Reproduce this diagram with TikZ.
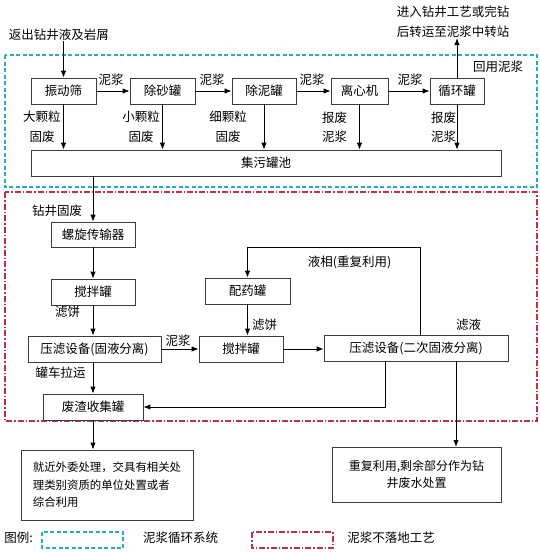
\documentclass[tikz,border=0pt]{standalone}
\usepackage{fontspec}
\setmainfont{Noto Sans CJK SC}
\usetikzlibrary{arrows.meta}
\definecolor{loopcyan}{RGB}{40,170,192}
\definecolor{nolandred}{RGB}{185,50,72}
\definecolor{boxgray}{RGB}{60,60,60}
\newcommand{\mainsize}{\fontsize{12.5}{19.5}\selectfont}
\newcommand{\outsize}{\fontsize{11.4}{17.5}\selectfont}
\tikzset{
  box/.style={
    draw=boxgray,
    line width=0.8pt,
    minimum height=26pt,
    inner sep=0pt,
    align=center,
    font=\mainsize
  },
  outbox/.style={box, font=\outsize},
  lbl/.style={inner sep=0pt, align=center, font=\mainsize},
  arrow/.style={-{Latex[length=7pt,width=5.5pt]}, line width=0.9pt, draw=black},
  loopframe/.style={draw=loopcyan, line width=1.1pt, dash pattern=on 4pt off 2.5pt},
  landframe/.style={draw=nolandred, line width=1.1pt, dash pattern=on 6pt off 2pt on 1.5pt off 2pt}
}

\begin{document}
\begin{tikzpicture}[x=1pt, y=-1pt]
    \useasboundingbox (0,0) rectangle (539,552);
    \draw[loopframe] (5,55) rectangle (537,187);
    \draw[landframe] (5,192) rectangle (537,421);

    \node[lbl] (inflow) at (59,35) {返出钻井液及岩屑};
    \node[box, minimum width=65pt] (shaker) at (63.5,91) {振动筛};
    \node[box, minimum width=65pt] (desander) at (162.5,91) {除砂罐};
    \node[box, minimum width=64pt] (desilter) at (264,91) {除泥罐};
    \node[box, minimum width=57pt] (centri) at (359.5,91) {离心机};
    \node[box, minimum width=54pt] (circ) at (457,91) {循环罐};
    \node[box, minimum width=470pt] (pool) at (266,163) {集污罐池};
    \node[lbl, font=\fontsize{12.5}{20}\selectfont] (reuse) at (453,22) {进入钻井工艺或完钻\\后转运至泥浆中转站};
    \node[lbl] (back) at (498,67) {回用泥浆};

    \node[lbl] (mud1) at (111,80) {泥浆};
    \node[lbl] (mud2) at (212,80) {泥浆};
    \node[lbl] (mud3) at (312,80) {泥浆};
    \node[lbl] (mud4) at (410,80) {泥浆};
    \node[lbl] (big) at (42,127) {大颗粒\\固废};
    \node[lbl] (small) at (141,127) {小颗粒\\固废};
    \node[lbl] (fine) at (228,127) {细颗粒\\固废};
    \node[lbl] (scrap1) at (334.5,127) {报废\\泥浆};
    \node[lbl] (scrap2) at (443.5,127) {报废\\泥浆};

    \draw[arrow] (inflow.south -| shaker.north) -- (shaker.north);
    \draw[arrow] (shaker) -- (desander);
    \draw[arrow] (desander) -- (desilter);
    \draw[arrow] (desilter) -- (centri);
    \draw[arrow] (centri) -- (circ);
    \draw[arrow] (circ.north) -- (reuse.south -| circ.north);
    \foreach \src in {shaker,desander,desilter,centri,circ}
      \draw[arrow] (\src.south) -- (\src.south |- pool.north);

    \node[box, minimum width=84pt, minimum height=25pt] (screw) at (93,234.5) {螺旋传输器};
    \node[box, minimum width=84pt] (mixA) at (93,292) {搅拌罐};
    \node[box, minimum width=133pt] (pressA) at (94.5,349) {压滤设备(固液分离)};
    \node[box, minimum width=85pt] (dosing) at (247.5,291) {配药罐};
    \node[box, minimum width=84pt] (mixB) at (241,349) {搅拌罐};
    \node[box, minimum width=184pt] (pressB) at (416,348) {压滤设备(二次固液分离)};
    \node[box, minimum width=100pt] (waste) at (93,407) {废渣收集罐};

    \node[lbl] (solid) at (57,211) {钻井固废};
    \node[lbl] (cakeA) at (67.5,312) {滤饼};
    \node[lbl] (mud5) at (178,341) {泥浆};
    \node[lbl] (cakeB) at (264.5,325) {滤饼};
    \node[lbl] (liquid) at (349.5,262) {液相(重复利用)};
    \node[lbl] (filtrate) at (468.5,325) {滤液};
    \node[lbl] (truck) at (60.5,373) {罐车拉运};

    \coordinate (liqtop) at (420,247);
    \coordinate (caketurn) at (385,407);
    \coordinate (filt) at (456,447);

    \draw[arrow] (pool.south -| screw.north) -- (screw.north);
    \draw[arrow] (screw) -- (mixA);
    \draw[arrow] (mixA.south) -- (mixA.south |- pressA.north);
    \draw[arrow] (pressA.east) -- (mixB.west);
    \draw[arrow] (dosing.south) -- (dosing.south |- mixB.north);
    \draw[arrow] (mixB.east) -- (mixB.east -| pressB.west);
    \draw[arrow] (pressB.north -| liqtop) -- (liqtop) -| (dosing.north);
    \draw[arrow] (pressB.south -| caketurn) -- (caketurn) -- (waste.east);
    \draw[arrow] (pressA.south -| waste.north) -- (waste.north);

    \node[outbox, minimum width=172pt, minimum height=70pt, align=left] (outA) at (107,485)
      {就近外委处理，交具有相关处\\理类别资质的单位处置或者\\综合利用};
    \node[outbox, minimum width=169pt, minimum height=55pt, font=\fontsize{12}{17}\selectfont] (outB) at (416.5,474.5)
      {重复利用,剩余部分作为钻\\井废水处置};
    \draw[arrow] (waste.south) -- (outA.north -| waste.south);
    \draw[arrow] (pressB.south -| filt) -- (filt);

    \node[lbl] (legend) at (18.5,538) {图例:};
    \draw[loopframe] (42,532) rectangle (123,548);
    \node[lbl] (loopname) at (180.5,538) {泥浆循环系统};
    \draw[landframe] (252,532) rectangle (333,548);
    \node[lbl] (landname) at (391,538) {泥浆不落地工艺};
  \end{tikzpicture}
\end{document}
